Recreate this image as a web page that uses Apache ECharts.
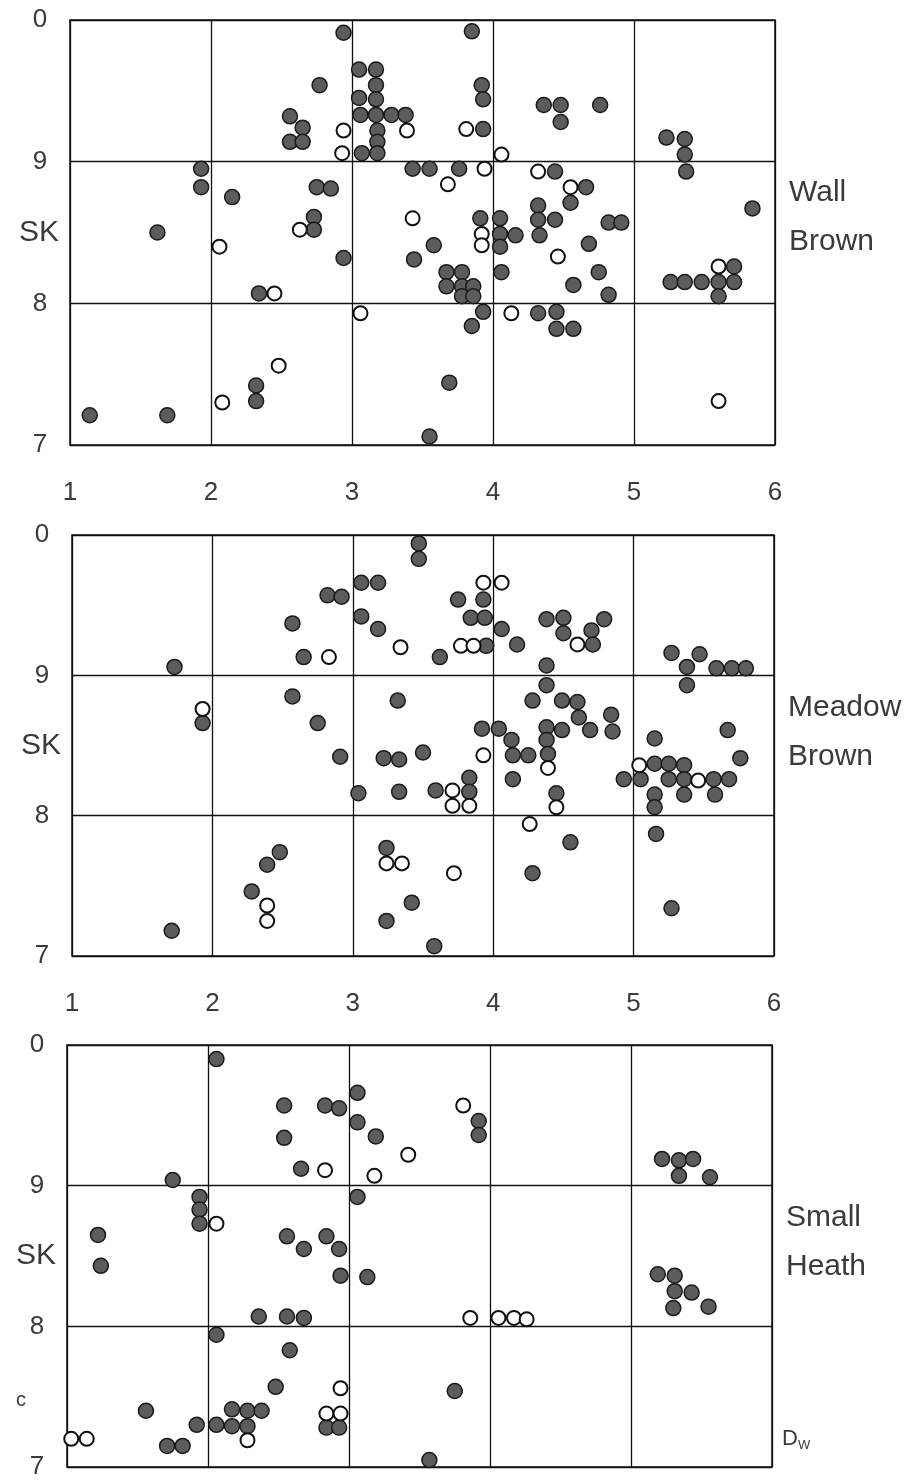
<!DOCTYPE html>
<html><head><meta charset="utf-8">
<script src="https://cdn.jsdelivr.net/npm/echarts@6/dist/echarts.min.js"></script>
<style>html,body{margin:0;padding:0;background:#fff}#c{width:915px;height:1480px}</style>
</head><body><div id="c"></div>
<script>
// ---- tick labels ----
const xTicks = ['1','2','3','4','5','6'];
const yTickLabels = {10:'0', 9:'9', 8:'8', 7:'7'};
const yMidLabel = 'SK';
const panelNames = [['Wall','Brown'],['Meadow','Brown'],['Small','Heath']];

// ---- Wall Brown ----
const wallFilled = [[1.14,7.21],[1.69,7.21],[1.62,8.50],[1.93,8.95],[1.93,8.82],[2.15,8.75],[2.32,7.42],[2.32,7.31],[2.34,8.07],[2.94,8.32],[3.44,8.31],[3.55,7.06],
[2.94,9.91],[2.77,9.54],[2.56,9.32],[2.65,9.24],[2.56,9.14],[2.65,9.14],
[3.05,9.65],[3.17,9.65],[3.17,9.54],[3.05,9.45],[3.17,9.44],[3.06,9.33],[3.17,9.33],[3.28,9.33],[3.38,9.33],[3.18,9.22],[3.18,9.14],[3.07,9.06],[3.18,9.06],
[2.75,8.82],[2.85,8.81],[2.73,8.61],[2.73,8.52],[3.43,8.95],
[3.85,9.92],[3.92,9.54],[3.93,9.44],[3.93,9.23],[4.36,9.40],[4.48,9.40],[4.76,9.40],[4.48,9.28],
[5.23,9.17],[5.36,9.16],[5.36,9.05],[5.37,8.93],[5.84,8.67],
[3.55,8.95],[3.76,8.95],[4.44,8.93],[4.66,8.82],[4.32,8.69],[4.55,8.71],
[3.91,8.60],[4.05,8.60],[4.32,8.59],[4.44,8.59],[4.82,8.57],[4.91,8.57],
[4.05,8.49],[4.16,8.48],[4.05,8.40],[4.33,8.48],[3.58,8.41],[4.68,8.42],
[3.67,8.22],[3.78,8.22],[3.67,8.12],[3.78,8.12],[3.86,8.12],[3.78,8.05],[3.86,8.05],[4.06,8.22],[4.75,8.22],[4.57,8.13],[4.82,8.06],
[3.93,7.94],[3.85,7.84],[4.32,7.93],[4.45,7.94],[4.45,7.82],[4.57,7.82],[3.69,7.44],
[5.26,8.15],[5.36,8.15],[5.48,8.15],[5.60,8.15],[5.71,8.15],[5.71,8.26],[5.60,8.05]];
const wallOpen = [[2.45,8.07],[2.48,7.56],[2.08,7.30],[2.06,8.40],[3.06,7.93],[2.94,9.22],[2.93,9.06],[3.39,9.22],[2.63,8.52],[3.43,8.60],[3.81,9.23],[4.06,9.05],[3.94,8.95],[3.68,8.84],[4.32,8.93],[4.55,8.82],[3.92,8.49],[3.92,8.41],[4.46,8.33],[4.13,7.93],[5.60,8.26],[5.60,7.31]];

// ---- Meadow Brown ----
const meadowFilled = [[1.73,9.06],[1.93,8.66],[2.57,9.37],[2.82,9.57],[2.92,9.56],[2.65,9.13],[3.06,9.66],[3.18,9.66],[3.47,9.94],[3.47,9.83],[3.06,9.42],[3.18,9.33],[2.57,8.85],[2.75,8.66],[3.32,8.82],
[3.75,9.54],[3.93,9.54],[3.84,9.41],[3.94,9.41],[4.06,9.33],[3.95,9.21],[4.17,9.22],[3.62,9.13],[4.38,9.40],[4.50,9.41],[4.79,9.40],[4.50,9.30],[4.70,9.32],[4.71,9.22],[4.38,9.07],
[5.27,9.16],[5.47,9.15],[5.38,9.06],[5.38,8.93],[5.59,9.05],[5.70,9.05],[5.80,9.05],
[4.38,8.93],[4.28,8.82],[4.49,8.82],[4.60,8.81],[4.61,8.70],[4.84,8.72],[3.92,8.62],[4.04,8.62],[4.38,8.63],[4.49,8.61],[4.69,8.61],[4.85,8.60],[4.13,8.54],[4.38,8.54],[5.15,8.55],[5.67,8.61],
[2.91,8.42],[3.22,8.41],[3.33,8.40],[3.04,8.16],[3.33,8.17],[2.48,7.74],[2.39,7.65],[2.28,7.46],[1.71,7.18],[3.24,7.77],[3.42,7.38],[3.24,7.25],
[3.50,8.45],[4.14,8.43],[4.25,8.43],[4.39,8.44],[4.14,8.26],[3.59,8.18],[3.83,8.27],[3.83,8.17],[4.45,8.16],[4.55,7.81],[4.28,7.59],[3.58,7.07],
[4.93,8.26],[5.05,8.26],[5.15,8.37],[5.25,8.37],[5.36,8.36],[5.25,8.26],[5.36,8.26],[5.57,8.26],[5.68,8.26],[5.15,8.15],[5.15,8.06],[5.36,8.15],[5.58,8.15],[5.76,8.41],[5.16,7.87],[5.27,7.34]];
const meadowOpen = [[1.93,8.76],[2.83,9.13],[3.34,9.20],[3.93,9.66],[4.06,9.66],[3.77,9.21],[3.86,9.21],[4.60,9.22],[3.24,7.66],[3.35,7.66],[2.39,7.36],[2.39,7.25],[3.93,8.43],[4.39,8.34],[3.71,8.18],[3.71,8.07],[3.83,8.07],[4.45,8.06],[4.26,7.94],[3.72,7.59],[5.04,8.36],[5.46,8.25]];

// ---- Small Heath ----
const heathFilled = [[2.06,9.90],[2.54,9.57],[2.83,9.57],[2.93,9.55],[3.06,9.66],[3.06,9.45],[3.19,9.35],[2.54,9.34],[2.66,9.12],[1.75,9.04],[3.06,8.92],[1.94,8.92],[1.94,8.83],[1.94,8.73],[1.22,8.65],[2.56,8.64],[2.68,8.55],[2.84,8.64],[2.93,8.55],
[1.24,8.43],[2.94,8.36],[3.13,8.35],[2.36,8.07],[2.56,8.07],[2.68,8.06],[2.06,7.94],[2.58,7.83],[2.48,7.57],[1.56,7.40],[2.17,7.41],[2.28,7.40],[2.38,7.40],[1.92,7.30],[2.06,7.30],[2.17,7.29],[2.28,7.29],[2.84,7.28],[2.93,7.28],[1.71,7.15],[1.82,7.15],
[3.92,9.46],[3.92,9.36],[5.22,9.19],[5.34,9.18],[5.44,9.19],[5.34,9.07],[5.56,9.06],
[3.75,7.54],[3.57,7.05],[5.19,8.37],[5.31,8.36],[5.31,8.25],[5.43,8.24],[5.30,8.13],[5.55,8.14]];
const heathOpen = [[3.42,9.22],[2.83,9.11],[3.18,9.07],[2.06,8.73],[2.94,7.56],[2.84,7.38],[2.94,7.38],[2.28,7.19],[1.03,7.20],[1.14,7.20],[3.81,9.57],[3.86,8.06],[4.06,8.06],[4.17,8.06],[4.26,8.05]];

const panels = [
  {filled: wallFilled, open: wallOpen, grid:{left:70, top:20, width:705, height:425}, xLabels:true},
  {filled: meadowFilled, open: meadowOpen, grid:{left:72, top:535, width:702, height:421}, xLabels:true},
  {filled: heathFilled, open: heathOpen, grid:{left:67, top:1045, width:705, height:422}, xLabels:false}
];

const FONT = '"Liberation Sans", Arial, sans-serif';
const TXT = '#3a3a3a';
const FS = 26;
const FSW = 30;

const option = {backgroundColor:'#fff', animation:false, grid:[], xAxis:[], yAxis:[], series:[], graphic:[]};
panels.forEach((p,i)=>{
  option.grid.push(Object.assign({show:true, borderColor:'#111', borderWidth:1.5, backgroundColor:'transparent'}, p.grid));
  option.xAxis.push({type:'value', gridIndex:i, min:1, max:6, interval:1,
    axisLine:{show:false}, axisTick:{show:false},
    splitLine:{show:true, lineStyle:{color:'#111', width:1.3}},
    axisLabel:{show:p.xLabels, margin:35, color:TXT, fontSize:FS, fontFamily:FONT,
      formatter:v=>xTicks[Math.round(v)-1]}});
  option.yAxis.push({type:'value', gridIndex:i, min:7, max:10, interval:1, position:'left',
    axisLine:{show:false}, axisTick:{show:false},
    splitLine:{show:true, lineStyle:{color:'#111', width:1.3}},
    axisLabel:{margin:30, align:'center', color:TXT, fontSize:FS, fontFamily:FONT,
      formatter:v=>yTickLabels[Math.round(v)] || ''}});
  option.yAxis.push({type:'value', gridIndex:i, min:7, max:10, interval:1.5, position:'left', offset:0,
    axisLine:{show:false}, axisTick:{show:false}, splitLine:{show:false},
    axisLabel:{margin:31, align:'center', color:TXT, fontSize:FSW, fontFamily:FONT,
      formatter:v=>Math.abs(v-8.5)<0.01 ? yMidLabel : ''}});
  const yIdx = i*2;
  option.series.push({type:'scatter', xAxisIndex:i, yAxisIndex:yIdx, data:p.filled, symbol:'circle', symbolSize:15,
    itemStyle:{color:'#5c5c5c', borderColor:'#1a1a1a', borderWidth:1.5, opacity:1}});
  option.series.push({type:'scatter', xAxisIndex:i, yAxisIndex:yIdx, data:p.open, symbol:'circle', symbolSize:14,
    itemStyle:{color:'#fff', borderColor:'#111', borderWidth:2, opacity:1}});
  const g = p.grid;
  const names = panelNames[i];
  option.graphic.push({type:'text', left:g.left+g.width+14, top:g.top+173-FSW/2,
    style:{text:names[0], fill:TXT, font:FSW+'px '+FONT}});
  option.graphic.push({type:'text', left:g.left+g.width+14, top:g.top+222-FSW/2,
    style:{text:names[1], fill:TXT, font:FSW+'px '+FONT}});
});
option.graphic.push({type:'text', left:16, top:1390, style:{text:'c', fill:TXT, font:'20px '+FONT}});
option.graphic.push({type:'text', left:782, top:1428, style:{text:'{a|D}{b|W}', fill:TXT,
  rich:{a:{fontSize:22, fontFamily:FONT, fill:TXT}, b:{fontSize:13, fontFamily:FONT, fill:TXT, padding:[12,0,0,0]}}}});

const chart = echarts.init(document.getElementById('c'), null, {renderer:'canvas'});
chart.setOption(option);
</script></body></html>
